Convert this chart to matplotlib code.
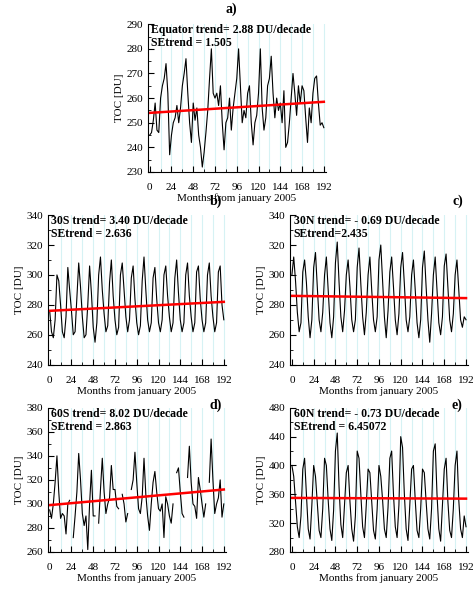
import numpy as np
import matplotlib
matplotlib.use("Agg")
import matplotlib.pyplot as plt
from matplotlib.ticker import MultipleLocator

plt.rcParams['font.family'] = ['Liberation Serif', 'DejaVu Serif']

months = list(range(0, 193, 2))

toc_eq = [245,246,251,258,247,246, 260,265,268,274,262,237, 245,250,252,257,250,256,
          265,270,276,262,250,242, 258,251,256,245,240,232, 238,246,255,268,280,262,
          260,262,257,265,250,239, 250,252,260,247,256,262, 268,280,265,250,255,252,
          262,265,250,241,250,253, 262,280,256,247,252,265, 268,277,262,252,260,255,
          258,250,263,240,242,250, 260,270,262,253,265,258, 265,263,252,242,256,250,
          262,268,269,258,249,250, 248]
toc_30s = [276,262,258,270,300,296, 280,262,258,272,305,290, 276,260,262,285,308,292,
           272,258,260,280,306,288, 265,255,268,300,312,290, 274,262,266,295,310,286,
           270,260,265,300,308,290, 272,262,270,298,306,284, 268,260,266,296,312,290,
           270,262,268,298,305,284, 268,262,270,300,306,286, 272,262,268,298,310,288,
           270,262,268,300,308,286, 272,262,268,302,306,284, 270,262,268,300,308,286,
           272,262,268,302,306,280, 270]
toc_30n = [300,312,296,275,262,268, 302,310,295,272,258,270, 305,315,292,270,262,275,
           300,312,290,268,258,272, 308,322,295,272,262,276, 300,310,292,270,262,270,
           305,318,294,272,260,275, 300,312,290,270,262,272, 310,320,296,272,258,276,
           302,312,292,270,260,274, 305,315,294,270,262,272, 300,310,290,268,258,270,
           305,316,292,270,255,274, 300,312,290,268,260,272, 306,314,292,270,262,274,
           300,310,290,270,265,272, 270]
toc_60s = [295,288,300,318,340,310, 288,292,290,275,300,303, np.nan,272,290,310,342,320,
           292,282,290,262,300,328, 290,290,np.nan,284,312,338, 310,292,300,305,332,312,
           312,298,296,np.nan,308,300, 285,292,np.nan,312,320,343, 318,296,292,306,338,308,
           290,278,300,318,327,310, 296,294,300,272,306,300, 290,284,300,np.nan,326,330,
           310,292,289,np.nan,322,348, 318,300,298,288,322,312, 300,289,300,np.nan,318,354,
           320,292,300,305,320,289, 300]
toc_60n = [400,385,350,315,300,330, 395,410,360,312,298,345, 400,385,348,310,300,340,
           410,400,352,312,296,338, 420,445,370,318,300,345, 390,400,350,312,295,330,
           420,410,360,315,300,345, 395,390,350,310,298,340, 400,385,352,312,300,342,
           410,420,360,315,300,345, 440,425,360,312,296,345, 395,400,352,310,300,340,
           395,390,350,312,298,340, 420,430,360,312,295,345, 395,410,350,310,300,340,
           400,420,352,312,300,330, 315]

panels = [
    dict(d=toc_eq, tr=(254.0, 258.5), lab='a)', lp=(0.487, 0.985), txt='Equator trend= 2.88 DU/decade\nSEtrend = 1.505',
         pos=[0.312, 0.709, 0.375, 0.250], yl=(230, 290), maj=10, mnr=5),
    dict(d=toc_30s, tr=(276.0, 282.0), lab='b)', lp=(0.455, 0.66), txt='30S trend= 3.40 DU/decade\nSEtrend = 2.636',
         pos=[0.101, 0.383, 0.375, 0.253], yl=(240, 340), maj=20, mnr=10),
    dict(d=toc_30n, tr=(286.0, 284.5), lab='c)', lp=(0.965, 0.66), txt='30N trend= - 0.69 DU/decade\nSEtrend=2.435',
         pos=[0.612, 0.383, 0.375, 0.253], yl=(240, 340), maj=20, mnr=10),
    dict(d=toc_60s, tr=(299.0, 312.0), lab='d)', lp=(0.455, 0.315), txt='60S trend= 8.02 DU/decade\nSEtrend = 2.863',
         pos=[0.101, 0.066, 0.375, 0.244], yl=(260, 380), maj=20, mnr=10),
    dict(d=toc_60n, tr=(355.0, 354.0), lab='e)', lp=(0.965, 0.315), txt='60N trend= - 0.73 DU/decade\nSEtrend = 6.45072',
         pos=[0.612, 0.066, 0.375, 0.244], yl=(280, 480), maj=40, mnr=20),
]

fig = plt.figure(figsize=(4.74, 5.91), dpi=100)
for p in panels:
    ax = fig.add_axes(p['pos'])
    for gx in range(12, 193, 12):
        ax.axvline(gx, color='#d6f2f4', lw=0.8, zorder=0)
    ax.plot(months, p['d'], color='black', lw=0.8)
    ax.plot([0, 192], p['tr'], color='red', lw=1.8)
    ax.set_xlim(-2, 194)
    ax.set_ylim(*p['yl'])
    ax.xaxis.set_major_locator(MultipleLocator(24))
    ax.xaxis.set_minor_locator(MultipleLocator(12))
    ax.yaxis.set_major_locator(MultipleLocator(p['maj']))
    ax.yaxis.set_minor_locator(MultipleLocator(p['mnr']))
    ax.tick_params(labelsize=8, direction='in', length=4)
    ax.tick_params(which='minor', direction='in', length=2)
    ax.tick_params(axis='x', pad=8)
    ax.spines['top'].set_visible(False)
    ax.spines['right'].set_visible(False)
    ax.set_ylabel('TOC [DU]', fontsize=8, labelpad=2)
    ax.set_xlabel('Months from january 2005', fontsize=8, labelpad=1)
    ax.text(0.02, 1.0, p['txt'], transform=ax.transAxes, fontsize=8.5, fontweight='bold',
            va='top', ha='left', linespacing=1.1)
    fig.text(p['lp'][0], p['lp'][1], p['lab'], fontsize=10, fontweight='bold',
             ha='center', va='center')

fig.savefig('out.png', dpi=100)
